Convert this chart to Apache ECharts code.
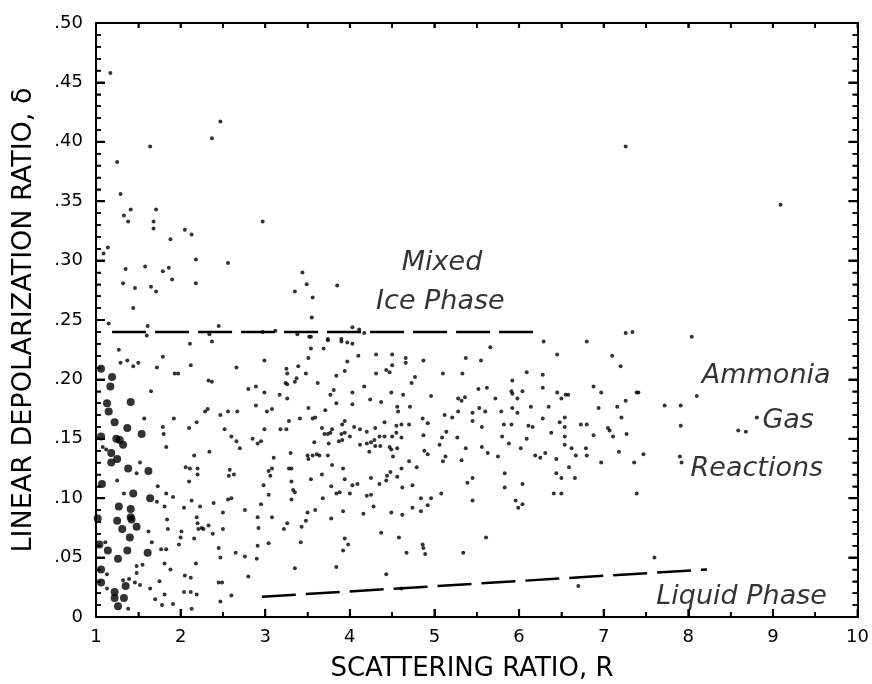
<!DOCTYPE html>
<html>
<head>
<meta charset="utf-8">
<script src="https://cdn.jsdelivr.net/npm/echarts@6/dist/echarts.min.js"></script>
<style>
  html, body { margin: 0; padding: 0; background: #fff; }
  #chart { width: 872px; height: 684px; }
</style>
</head>
<body>
<div id="chart"></div>
<script>
// axis titles and ranges
const xTitle = 'SCATTERING RATIO, R';
const yTitle = 'LINEAR DEPOLARIZATION RATIO, δ';
const xRange = [1, 10];
const yRange = [0, 0.5];

// tick positions on the frame
const xMajorTicks = [1, 2, 3, 4, 5, 6, 7, 8, 9, 10];
const xHalfTicks = [1.5, 2.5, 3.5, 4.5, 5.5, 6.5, 7.5, 8.5, 9.5];
const yMajorTicks = [0, 0.05, 0.10, 0.15, 0.20, 0.25, 0.30, 0.35, 0.40, 0.45, 0.50];
const yMinorTicks = [
  0.01, 0.02, 0.03, 0.04, 0.06, 0.07, 0.08, 0.09, 0.11, 0.12, 0.13, 0.14,
  0.16, 0.17, 0.18, 0.19, 0.21, 0.22, 0.23, 0.24, 0.26, 0.27, 0.28, 0.29,
  0.31, 0.32, 0.33, 0.34, 0.36, 0.37, 0.38, 0.39, 0.41, 0.42, 0.43, 0.44,
  0.46, 0.47, 0.48, 0.49
];

// boundary lines drawn on the figure
const iceBoundary = [[1.19, 0.24], [6.27, 0.24]];
const liquidBoundary = [[2.96, 0.017], [8.22, 0.040]];

// region labels
const regionNames = ['Mixed', 'Ice Phase', 'Ammonia', 'Gas', 'Reactions', 'Liquid Phase'];
const regionX = [5.09, 5.07, 8.92, 9.18, 8.81, 8.63];
const regionY = [0.298, 0.265, 0.203, 0.165, 0.125, 0.017];

// large dots near R = 1
const largeDots = [
  [1.06,0.209],[1.19,0.202],[1.17,0.194],[1.13,0.180],[1.15,0.173],[1.41,0.181],[1.22,0.164],
  [1.37,0.159],[1.06,0.152],[1.24,0.150],[1.28,0.149],[1.32,0.145],[1.54,0.154],[1.18,0.138],
  [1.25,0.133],[1.18,0.130],[1.38,0.125],[1.62,0.123],[1.07,0.112],[1.44,0.104],[1.64,0.100],
  [1.27,0.093],[1.41,0.091],[1.41,0.084],[1.42,0.082],[1.02,0.083],[1.25,0.081],[1.31,0.074],
  [1.48,0.076],[1.40,0.067],[1.04,0.061],[1.14,0.056],[1.37,0.056],[1.61,0.054],[1.26,0.049],
  [1.06,0.040],[1.06,0.029],[1.35,0.026],[1.22,0.021],[1.22,0.016],[1.33,0.016],[1.26,0.009]
];

// small dots above the ice line
const smallDotsUpper = [
  [1.17,0.458],[1.25,0.383],[1.29,0.356],[1.33,0.338],[1.38,0.333],[1.41,0.343],[1.09,0.306],
  [1.14,0.311],[1.35,0.293],[1.32,0.281],[1.46,0.277],[1.44,0.260],[1.15,0.247],[1.64,0.396],
  [1.71,0.343],[1.68,0.333],[1.68,0.327],[1.58,0.295],[1.65,0.278],[1.71,0.274],[1.61,0.245],
  [1.60,0.237],[1.88,0.318],[1.79,0.291],[1.86,0.294],[1.90,0.284],[2.05,0.326],[2.13,0.322],
  [2.18,0.301],[2.18,0.281],[2.37,0.403],[2.47,0.417],[2.56,0.298],[2.45,0.245],[2.34,0.238],
  [2.97,0.333],[2.97,0.240],[3.12,0.241],[3.35,0.274],[3.44,0.290],[3.49,0.280],[3.56,0.269],
  [3.55,0.252],[3.38,0.238],[3.52,0.236],[3.85,0.279],[4.03,0.244],[3.74,0.234],[3.90,0.234],
  [7.26,0.396],[7.26,0.239],[7.34,0.240],[8.04,0.236],[9.09,0.347],[4.11,0.242],[4.17,0.239]
];

// small dots, R below about 2.2
const smallDotsLeft = [
  [1.27,0.225],[1.29,0.214],[1.37,0.216],[1.44,0.211],[1.50,0.214],[1.72,0.210],[1.79,0.219],
  [1.65,0.190],[1.57,0.167],[1.79,0.160],[1.80,0.154],[1.83,0.143],[1.08,0.143],[1.12,0.141],
  [1.52,0.130],[1.48,0.121],[1.25,0.115],[1.33,0.104],[1.73,0.110],[1.83,0.104],[1.91,0.101],
  [1.72,0.097],[1.81,0.093],[1.84,0.082],[1.85,0.074],[1.62,0.072],[2.01,0.072],[2.00,0.067],
  [1.66,0.063],[1.98,0.061],[1.77,0.057],[1.83,0.057],[1.11,0.063],[1.48,0.043],[1.55,0.044],
  [1.81,0.045],[1.88,0.040],[1.48,0.037],[1.13,0.036],[1.75,0.030],[1.32,0.031],[1.39,0.032],
  [1.46,0.029],[1.52,0.027],[1.64,0.024],[1.13,0.024],[1.70,0.015],[1.81,0.019],[1.78,0.010],
  [1.91,0.011],[1.38,0.007],[2.13,0.007],[2.05,0.035],[2.12,0.033],[2.04,0.021],[2.12,0.021],
  [2.19,0.019]
];

// small dots, R from about 2 to 4
const smallDotsMiddle = [
  [2.11,0.230],[2.37,0.232],[1.93,0.205],[1.97,0.205],[2.12,0.212],[2.33,0.199],[2.37,0.198],
  [1.92,0.167],[2.29,0.173],[2.32,0.175],[2.47,0.170],[2.56,0.173],[2.67,0.173],[2.10,0.159],
  [2.19,0.164],[2.52,0.158],[2.60,0.152],[2.66,0.148],[2.70,0.142],[2.85,0.150],[2.91,0.146],
  [2.95,0.148],[2.34,0.139],[2.16,0.136],[2.66,0.210],[2.80,0.192],[2.89,0.194],[2.99,0.216],
  [2.99,0.189],[2.89,0.178],[3.02,0.173],[3.08,0.175],[2.99,0.158],[3.17,0.187],[3.18,0.158],
  [3.25,0.158],[3.25,0.209],[3.26,0.205],[3.24,0.197],[3.26,0.196],[3.26,0.184],[3.39,0.211],
  [3.37,0.201],[3.35,0.198],[3.51,0.218],[3.54,0.226],[3.54,0.236],[3.69,0.226],[3.74,0.233],
  [3.90,0.232],[3.97,0.231],[4.03,0.230],[3.48,0.205],[3.62,0.197],[3.81,0.191],[3.77,0.187],
  [3.94,0.207],[3.84,0.203],[4.03,0.189],[3.51,0.176],[3.59,0.168],[3.56,0.167],[3.71,0.174],
  [3.84,0.180],[3.94,0.165],[3.91,0.162],[3.28,0.165],[3.41,0.167],[3.67,0.159],[3.79,0.158],
  [3.70,0.154],[3.74,0.154],[3.77,0.155],[3.90,0.154],[3.94,0.155],[4.00,0.152],[3.58,0.147],
  [3.75,0.146],[3.87,0.148],[3.91,0.149],[3.30,0.138],[3.50,0.136],[3.56,0.136],[3.61,0.137],
  [3.64,0.136],[3.74,0.136],[3.51,0.133],[3.79,0.128],[3.92,0.125],[4.03,0.111],[3.88,0.105],
  [3.84,0.104],[3.78,0.110],[3.54,0.116],[3.67,0.120],[3.31,0.114],[3.33,0.107],[3.35,0.105],
  [3.28,0.125],[3.31,0.125],[3.08,0.125],[3.04,0.123],[3.06,0.119],[3.10,0.134],[2.98,0.111],
  [3.04,0.103],[3.31,0.099],[2.58,0.124],[2.63,0.120],[2.57,0.119],[2.06,0.126],[2.11,0.125],
  [2.20,0.125],[2.20,0.120],[2.10,0.114],[2.13,0.098],[2.04,0.092],[2.23,0.093],[2.39,0.096],
  [2.56,0.099],[2.60,0.100],[2.50,0.088],[2.76,0.090],[2.95,0.095],[3.08,0.084],[2.91,0.084],
  [2.19,0.084],[2.20,0.079],[2.25,0.075],[2.21,0.074],[2.27,0.074],[2.33,0.077],[2.38,0.070],
  [2.50,0.074],[2.92,0.075],[3.22,0.074],[3.26,0.079],[3.43,0.076],[3.48,0.081],[3.50,0.088],
  [3.59,0.090],[3.68,0.100],[3.78,0.083],[3.92,0.089],[3.42,0.063],[3.04,0.062],[2.91,0.060],
  [3.94,0.066],[3.92,0.056],[2.45,0.058],[2.16,0.066],[2.18,0.045],[2.47,0.050],[2.65,0.054],
  [2.76,0.051],[2.90,0.049],[3.35,0.041],[3.84,0.042],[2.80,0.034],[2.45,0.029],[2.49,0.029],
  [2.60,0.018],[2.47,0.013]
];

// small dots, R above about 4
const smallDotsRight = [
  [6.29,0.232],[6.80,0.232],[5.66,0.227],[4.10,0.220],[4.31,0.221],[4.50,0.221],[4.66,0.218],
  [4.66,0.214],[4.87,0.216],[5.37,0.218],[5.55,0.216],[6.45,0.221],[7.10,0.220],[7.20,0.211],
  [3.97,0.215],[4.50,0.212],[4.31,0.205],[4.43,0.208],[4.47,0.206],[4.77,0.202],[4.73,0.197],
  [5.10,0.205],[5.33,0.205],[6.09,0.206],[6.28,0.204],[5.92,0.199],[6.88,0.194],[6.97,0.189],
  [7.39,0.189],[4.17,0.194],[4.49,0.189],[4.63,0.187],[4.96,0.186],[5.52,0.192],[5.62,0.193],
  [5.91,0.190],[5.92,0.188],[6.04,0.190],[6.28,0.193],[6.45,0.189],[6.50,0.184],[6.55,0.187],
  [6.58,0.187],[4.03,0.179],[4.24,0.183],[4.37,0.181],[4.56,0.177],[4.57,0.173],[4.71,0.177],
  [5.28,0.184],[5.32,0.182],[5.36,0.185],[5.72,0.184],[5.98,0.184],[5.28,0.173],[5.45,0.172],
  [5.53,0.176],[5.60,0.173],[5.79,0.173],[5.92,0.176],[5.98,0.172],[6.14,0.177],[6.35,0.177],
  [6.94,0.176],[7.16,0.177],[7.26,0.182],[7.21,0.168],[6.28,0.167],[6.48,0.164],[6.54,0.168],
  [6.73,0.162],[6.80,0.162],[6.54,0.160],[6.88,0.153],[7.05,0.159],[7.07,0.157],[7.11,0.152],
  [7.27,0.154],[6.38,0.155],[6.54,0.152],[4.05,0.160],[4.12,0.158],[4.20,0.156],[4.30,0.159],
  [4.41,0.164],[4.55,0.161],[4.61,0.162],[4.70,0.162],[4.86,0.167],[4.92,0.163],[5.12,0.170],
  [5.21,0.168],[5.45,0.165],[5.56,0.160],[5.82,0.162],[5.91,0.162],[6.11,0.161],[6.16,0.160],
  [4.12,0.145],[4.20,0.146],[4.25,0.147],[4.29,0.149],[4.35,0.152],[4.41,0.152],[4.50,0.152],
  [4.55,0.155],[4.61,0.151],[4.87,0.153],[5.14,0.156],[5.09,0.151],[5.27,0.151],[5.80,0.152],
  [6.09,0.150],[4.23,0.139],[4.30,0.144],[4.36,0.144],[4.47,0.143],[4.49,0.141],[4.56,0.142],
  [4.51,0.135],[4.70,0.131],[4.88,0.140],[4.92,0.137],[5.06,0.145],[5.13,0.135],[5.10,0.131],
  [5.37,0.142],[5.32,0.132],[5.56,0.143],[5.63,0.138],[5.75,0.135],[5.88,0.146],[6.02,0.142],
  [6.19,0.136],[6.25,0.134],[6.31,0.138],[6.44,0.133],[6.54,0.145],[6.62,0.142],[6.67,0.136],
  [6.79,0.142],[6.80,0.136],[6.97,0.130],[7.18,0.139],[7.36,0.130],[6.59,0.126],[6.44,0.121],
  [6.50,0.117],[6.66,0.117],[6.41,0.104],[6.50,0.104],[6.04,0.112],[5.83,0.121],[5.83,0.109],
  [5.96,0.098],[6.04,0.095],[5.99,0.092],[5.45,0.117],[5.39,0.113],[5.45,0.098],[3.94,0.116],
  [4.25,0.117],[4.35,0.112],[4.43,0.115],[4.44,0.119],[4.48,0.122],[4.56,0.118],[4.62,0.109],
  [4.74,0.111],[4.79,0.126],[4.61,0.125],[4.09,0.112],[4.00,0.104],[4.20,0.102],[4.25,0.103],
  [4.28,0.093],[4.16,0.087],[4.49,0.088],[4.62,0.086],[4.74,0.092],[4.84,0.089],[4.84,0.100],
  [4.96,0.100],[4.92,0.094],[5.08,0.104],[7.39,0.104],[4.37,0.071],[4.58,0.067],[3.98,0.061],
  [4.67,0.054],[4.86,0.061],[4.87,0.058],[4.89,0.053],[5.34,0.054],[5.61,0.067],[4.43,0.036],
  [6.70,0.026],[4.61,0.024],[7.41,0.189],[7.72,0.178],[7.91,0.178],[8.10,0.186],[7.91,0.161],
  [8.59,0.157],[8.68,0.156],[8.81,0.168],[7.47,0.137],[7.90,0.135],[7.92,0.130],[7.60,0.050]
];

const ink = '#000';
const font = 'DejaVu Sans';

// tick lengths, in axis units (about 8-9 px for major, 5 px for minor)
const xTickMajor = 0.0068;
const xTickMinor = 0.0042;
const yTickMajor = 0.106;
const yTickMinor = 0.059;

const chart = echarts.init(document.getElementById('chart'));

// black frame with ticks pointing inward
const frame = (extra) => Object.assign({
  type: 'value',
  splitLine: { show: false },
  axisLine: { show: true, onZero: false, lineStyle: { color: ink, width: 2 } },
  axisTick: { show: true, inside: true, length: 9, lineStyle: { color: ink, width: 2 } },
  minorTick: { show: true, splitNumber: 5, length: 5, lineStyle: { color: ink, width: 1.5 } },
  axisLabel: { show: false }
}, extra);

const yLabel = (v) => (v === 0 ? '0' : v.toFixed(2).replace(/^0/, ''));

const regions = regionNames.map((name, i) => ({ name, value: [regionX[i], regionY[i]] }));

// tick segments as broken polylines, one gap marker between segments
const gap = ['-', '-'];
const tickPath = (xTicks, xLen, yTicks, yLen) => {
  const out = [];
  xTicks.forEach((v) => {
    out.push([v, yRange[0]], [v, yRange[0] + xLen], gap);
    out.push([v, yRange[1]], [v, yRange[1] - xTickMinor], gap);
  });
  yTicks.forEach((v) => {
    out.push([xRange[0], v], [xRange[0] + yLen, v], gap);
    out.push([xRange[1], v], [xRange[1] - yLen, v], gap);
  });
  return out;
};

chart.setOption({
  animation: false,
  grid: { left: 96, right: 13, top: 23, bottom: 67 },
  graphic: [
    {
      type: 'text', x: 472, y: 669, silent: true,
      style: { text: xTitle, fontFamily: font, fontSize: 26, fill: ink, align: 'center', verticalAlign: 'middle' }
    },
    {
      type: 'text', x: 24, y: 320, rotation: Math.PI / 2, silent: true,
      style: { text: yTitle, fontFamily: font, fontSize: 27, fill: ink, align: 'center', verticalAlign: 'middle' }
    }
  ],
  xAxis: [
    frame({
      position: 'bottom', min: xRange[0], max: xRange[1], interval: 1,
      axisTick: { show: true, inside: true, length: 8, lineStyle: { color: ink, width: 2 } },
      minorTick: { show: true, splitNumber: 2, length: 5, lineStyle: { color: ink, width: 1.5 } },
      axisLabel: { show: true, fontFamily: font, fontSize: 18, color: ink, margin: 11 }
    }),
    frame({
      position: 'top', min: xRange[0], max: xRange[1], interval: 0.5,
      axisTick: { show: true, inside: true, length: 5, lineStyle: { color: ink, width: 1.5 } },
      minorTick: { show: false }
    })
  ],
  yAxis: [
    frame({
      position: 'left', min: yRange[0], max: yRange[1], interval: 0.05,
      axisLabel: { show: true, fontFamily: font, fontSize: 18, color: ink, margin: 13, formatter: yLabel }
    }),
    frame({ position: 'right', min: yRange[0], max: yRange[1], interval: 0.05 })
  ],
  series: [
    {
      type: 'line', data: tickPath(xMajorTicks, xTickMajor, yMajorTicks, yTickMajor),
      symbol: 'none', silent: true, connectNulls: false, clip: false,
      lineStyle: { color: ink, width: 2, type: 'solid' }
    },
    {
      type: 'line', data: tickPath(xHalfTicks, xTickMinor, yMinorTicks, yTickMinor),
      symbol: 'none', silent: true, connectNulls: false, clip: false,
      lineStyle: { color: ink, width: 1.5, type: 'solid' }
    },
    {
      type: 'line', data: iceBoundary, symbol: 'none', silent: true,
      lineStyle: { color: ink, width: 2.5, type: [34, 9] }
    },
    {
      type: 'line', data: liquidBoundary, symbol: 'none', silent: true,
      lineStyle: { color: ink, width: 2.5, type: [34, 10] }
    },
    {
      type: 'scatter', data: largeDots, symbol: 'circle', symbolSize: 8,
      itemStyle: { color: ink }
    },
    {
      type: 'scatter',
      data: smallDotsUpper.concat(smallDotsLeft, smallDotsMiddle, smallDotsRight),
      symbol: 'circle', symbolSize: 4,
      itemStyle: { color: ink }
    },
    {
      type: 'scatter', data: regions, symbolSize: 1, silent: true,
      itemStyle: { color: 'rgba(0,0,0,0)' },
      label: {
        show: true, position: 'inside', formatter: '{b}',
        fontFamily: font, fontStyle: 'italic', fontSize: 27, color: ink
      }
    }
  ]
});
</script>
</body>
</html>
